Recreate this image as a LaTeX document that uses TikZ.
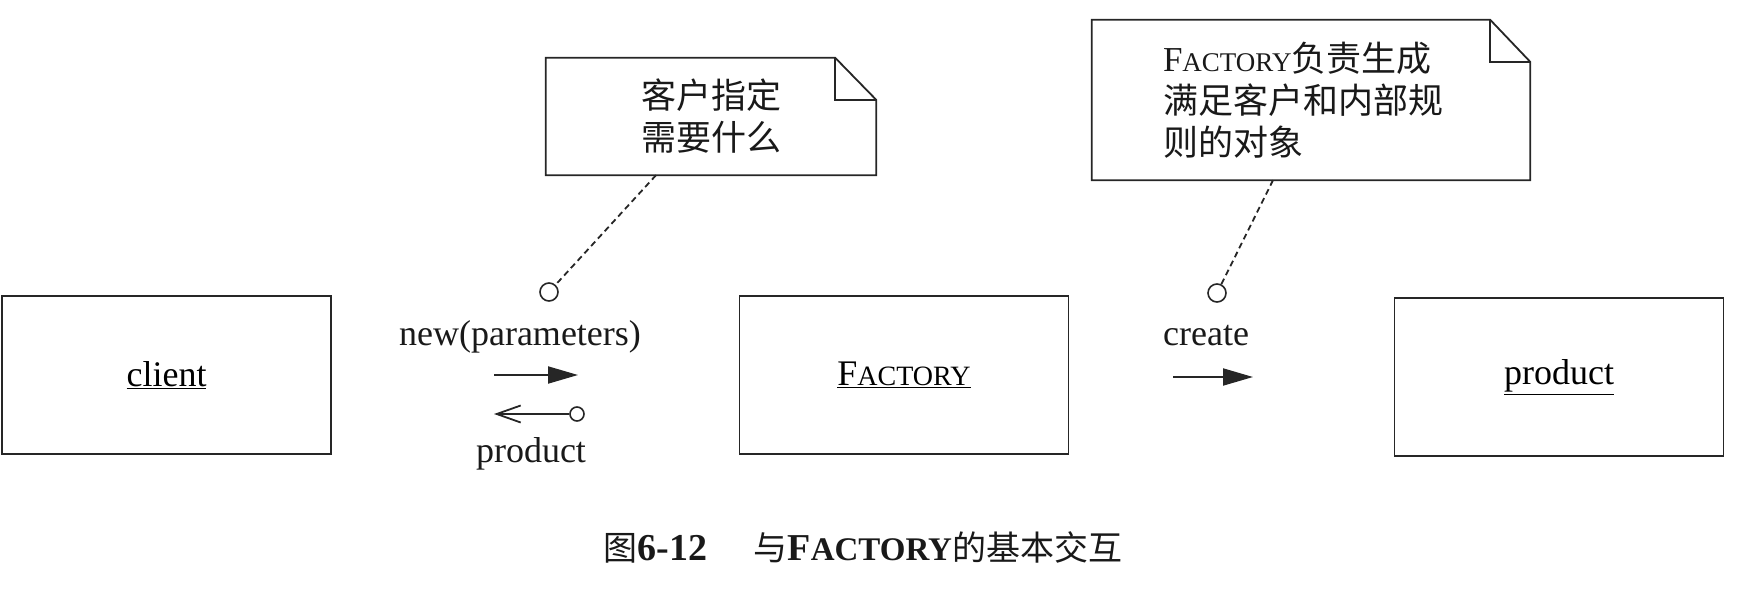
\documentclass[tikz,border=0pt]{standalone}
\usepackage{fontspec}
\setmainfont{Liberation Serif}
\newfontfamily\cjk{Noto Sans CJK SC}
\usetikzlibrary{arrows.meta}
\newcommand\FactoryName[1]{F{\fontsize{#1}{#1}\selectfont ACTORY}}
\begin{document}
\begin{tikzpicture}[x=1pt,y=-1pt,
  ink/.style={draw=black!85},
  objbox/.style={ink, line width=1.8pt, minimum width=329pt, minimum height=158pt,
    inner sep=0pt, font=\fontsize{36}{40}\selectfont},
  lbl/.style={inner sep=0pt, anchor=base, text=black!90, font=\fontsize{36}{40}\selectfont},
  noteframe/.style={ink, line width=1.8pt, line join=miter},
  notetext/.style={inner sep=0pt, text=black!90, font=\fontsize{35}{42}\selectfont},
  pinc/.style={circle, ink, line width=1.6pt, minimum size=18pt, inner sep=0pt},
  smallc/.style={circle, ink, line width=1.6pt, minimum size=14pt, inner sep=0pt},
  conn/.style={ink, line width=1.8pt, dash pattern=on 6pt off 4pt},
  msg/.style={ink, line width=2pt},
]
\useasboundingbox (0,0) rectangle (1746,600);

% objects
\node[objbox] (client) at (166.5,375) {\underline{client}};
\node[objbox] (factory) at (904,375) {\underline{\FactoryName{28}}};
\node[objbox] (product) at (1559,377) {\underline{product}};

% note 1
\node[notetext, minimum width=330pt, minimum height=117pt, align=center] (n1) at (711,116.5)
  {{\cjk 客户指定}\\{\cjk 需要什么}};
\draw[noteframe] (n1.north west) -- ([xshift=-41pt]n1.north east)
  -- ([yshift=-42pt]n1.north east) -- (n1.south east) -- (n1.south west) -- cycle;
\draw[noteframe] ([xshift=-41pt]n1.north east) -- ([xshift=-41pt,yshift=-42pt]n1.north east)
  -- ([yshift=-42pt]n1.north east);

% note 2
\node[notetext, minimum width=438pt, minimum height=160pt, text width=296pt, align=left] (n2) at (1311,100)
  {\FactoryName{27}{\cjk 负责生成}\\{\cjk 满足客户和内部规}\\{\cjk 则的对象}};
\draw[noteframe] (n2.north west) -- ([xshift=-40pt]n2.north east)
  -- ([yshift=-42pt]n2.north east) -- (n2.south east) -- (n2.south west) -- cycle;
\draw[noteframe] ([xshift=-40pt]n2.north east) -- ([xshift=-40pt,yshift=-42pt]n2.north east)
  -- ([yshift=-42pt]n2.north east);

% note anchors
\node[pinc] (c1) at (549,292) {};
\node[pinc] (c2) at (1217,293) {};
\draw[conn] ([xshift=-55pt]n1.south) -- (c1);
\draw[conn] ([xshift=-38pt]n2.south) -- (c2);

% messages client <-> factory
\node[lbl] (newlbl) at (520,345) {new(parameters)};
\coordinate (m1a) at (494,375);
\coordinate (m1b) at (578,375);
\draw[msg, -{Triangle[length=30pt,width=17pt]}] (m1a) -- (m1b);
\node[smallc] (r1) at (577,414) {};
\coordinate (r1tip) at (494,414);
\draw[msg, line width=1.8pt, -{Straight Barb[length=24pt,width=17pt]}] (r1) -- (r1tip);
\node[lbl] (retlbl) at (531,462) {product};

% message factory -> product
\node[lbl] (createlbl) at (1206,345) {create};
\coordinate (m2a) at (1173,377);
\coordinate (m2b) at (1253,377);
\draw[msg, -{Triangle[length=30pt,width=17pt]}] (m2a) -- (m2b);

% caption
\node[inner sep=0pt, anchor=base, text=black!90] (caption) at (863,560)
  {{\fontsize{34}{40}\cjk 图}{\fontsize{38}{40}\selectfont\bfseries 6-12}\hspace{46pt}{\fontsize{34}{40}\cjk 与}{\fontsize{38}{40}\selectfont\bfseries\FactoryName{33}}{\fontsize{34}{40}\cjk 的基本交互}};
\end{tikzpicture}
\end{document}
